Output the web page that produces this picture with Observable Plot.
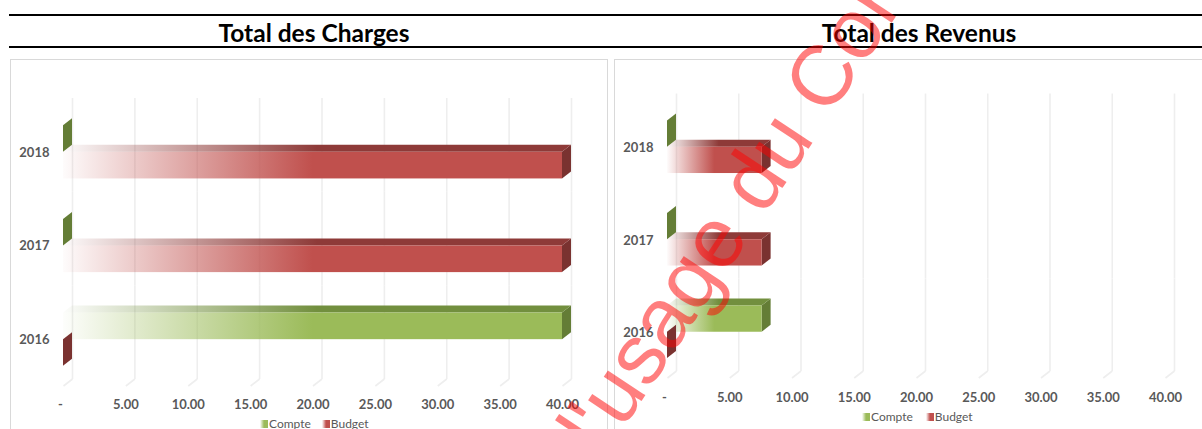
<!DOCTYPE html>
<html><head><meta charset="utf-8">
<script src="https://cdn.jsdelivr.net/npm/d3@7"></script>
<script src="https://cdn.jsdelivr.net/npm/@observablehq/plot@0.6"></script>
<style>
html,body{margin:0;padding:0;background:#fff}
#page{position:relative;width:1202px;height:429px;overflow:hidden;font-family:Lato,sans-serif}
.rule{position:absolute;left:9px;right:0;height:2px;background:#000}
.title{position:absolute;top:18.5px;font:bold 24.5px/28px Lato,sans-serif;color:#000;transform:translateX(-50%);white-space:nowrap}
.panel{position:absolute;top:59px;height:380px;border:1px solid #d9d9d9;box-sizing:border-box;background:#fff;overflow:hidden}
.panel svg{position:absolute;left:0;top:0;overflow:visible;background:transparent}
.legend{position:absolute;font:12px/14px Lato,sans-serif;color:#595959;display:flex;white-space:nowrap}
.legend i{display:inline-block;width:8px;height:8px;margin:3px 1px 0 0}
.legend span{margin-right:11px}
#wm{position:absolute;left:0;top:0;font:85px "Liberation Sans",Arial,sans-serif;color:rgba(255,0,0,.5);white-space:nowrap;transform-origin:0 0;pointer-events:none}
</style></head>
<body><div id="page">
<div class="rule" style="top:14px"></div><div class="rule" style="top:46px"></div>
<div class="title" style="left:314px">Total des Charges</div>
<div class="title" style="left:919px">Total des Revenus</div>
<div class="panel" id="p1" style="left:10px;width:598px"></div>
<div class="panel" id="p2" style="left:614px;width:600px"></div>
<div id="wm">à l'usage du Conseil</div>
</div>
<script>
const years = ["2018","2017","2016"];
const series = ["Compte","Budget"];
const ticks = [0,5,10,15,20,25,30,35,40];
const compteCharges = [0,0,40];
const budgetCharges = [40,40,0];
const compteRevenus = [0,0,7.6];
const budgetRevenus = [7.6,7.6,0];
const colors = {
  Compte:{front:"#9BBB59",top:"#728F3E",side:"#647D36"},
  Budget:{front:"#C0504D",top:"#8E3A38",side:"#7A3230"}
};
const depthX = 9, depthY = 7;

function face(kind){
  return function(index, scales, values, dims, ctx, next){
    const g = next(index, scales, values, dims, ctx);
    g.querySelectorAll("rect").forEach(r=>{
      const x=+r.getAttribute("x"), y=+r.getAttribute("y"), w=+r.getAttribute("width"), h=+r.getAttribute("height");
      const pts = kind==="top"
        ? [[x,y],[x+w,y],[x+w+depthX,y-depthY],[x+depthX,y-depthY]]
        : [[x+w,y],[x+w+depthX,y-depthY],[x+w+depthX,y+h-depthY],[x+w,y+h]];
      const p = document.createElementNS("http://www.w3.org/2000/svg","polygon");
      p.setAttribute("points",pts.map(d=>d.join(",")).join(" "));
      r.replaceWith(p);
    });
    return g;
  };
}
function floor(index, scales, values, dims, ctx, next){
  const g = next(index, scales, values, dims, ctx);
  g.querySelectorAll("line").forEach(l=>{
    const x=+l.getAttribute("x1"), y=+l.getAttribute("y2");
    l.setAttribute("x1",x+depthX); l.setAttribute("y1",y-depthY);
    l.setAttribute("x2",x); l.setAttribute("y2",y);
  });
  return g;
}

function chart(id, compte, budget, o){
  const rows = [];
  years.forEach((year,i)=>{
    rows.push({year,series:"Compte",value:compte[i]});
    rows.push({year,series:"Budget",value:budget[i]});
  });
  const gridRows = ticks.map(t=>({t}));
  const bars = series.flatMap(s=>{
    const d = rows.filter(r=>r.series===s), k=s.toLowerCase()+id;
    const base = {x:"value",y:"series",fy:"year"};
    return [
      Plot.barX(d,{...base,fill:colors[s].side,render:face("side")}),
      Plot.barX(d,{...base,fill:`url(#top-${k})`,render:face("top")}),
      Plot.barX(d,{...base,fill:`url(#front-${k})`})
    ];
  });
  const svg = Plot.plot({
    width:o.width,height:o.height,
    marginLeft:o.left,marginRight:o.right,marginTop:o.top,marginBottom:o.bottom,
    style:{background:"transparent",fontFamily:"Lato,sans-serif"},
    x:{domain:[0,40]},
    y:{domain:series,paddingInner:0,paddingOuter:.76,round:false,axis:null},
    fy:{domain:years,padding:0,round:false},
    facet:{marginTop:0,marginBottom:0},
    marks:[
      Plot.ruleX(gridRows,{x:"t",dx:depthX,dy:-depthY,stroke:"#eeeeee",strokeWidth:1.6}),
      Plot.ruleX(gridRows,{x:"t",fy:()=>years[2],stroke:"#eeeeee",strokeWidth:1.6,render:floor}),
      ...bars,
      Plot.axisX({ticks,anchor:"bottom",tickSize:0,tickPadding:o.xpad,label:null,fill:"#595959",fontSize:13,fontWeight:700,
        tickFormat:d=>d===0?"-\u00a0\u00a0":d.toFixed(2)}),
      Plot.axisFy({anchor:"left",tickSize:0,tickPadding:14,label:null,fill:"#595959",fontSize:13,fontWeight:700,dy:o.ydy})
    ]
  });
  const defs = d3.select(svg).insert("defs",":first-child");
  series.forEach(s=>{
    const k=s.toLowerCase()+id;
    [["front",colors[s].front],["top",colors[s].top]].forEach(([f,c])=>{
      const g=defs.append("linearGradient").attr("id",`${f}-${k}`);
      g.append("stop").attr("offset","0").attr("stop-color",c).attr("stop-opacity",.02);
      g.append("stop").attr("offset",".5").attr("stop-color",c).attr("stop-opacity",1);
    });
  });
  const panel=document.getElementById(id);
  panel.appendChild(svg);
  const lg=document.createElement("div");
  lg.className="legend";
  lg.style.left=o.lx+"px"; lg.style.top=o.ly+"px";
  series.forEach((s,i)=>{
    const sp=document.createElement("span");
    if(i===0) sp.style.marginRight=o.lgap+"px";
    const sw=document.createElement("i");
    sw.style.background=`linear-gradient(90deg,#fff,${colors[s].front} 50%)`;
    sp.appendChild(sw); sp.appendChild(document.createTextNode(s));
    lg.appendChild(sp);
  });
  panel.appendChild(lg);
}
chart("p1",compteCharges,budgetCharges,{width:596,height:369,left:52,right:45,top:45,bottom:43,xpad:13,ydy:0,lx:249,ly:357,lgap:11});
chart("p2",compteRevenus,budgetRevenus,{width:590,height:369,left:52,right:40,top:40.5,bottom:51,xpad:14,ydy:1,lx:247,ly:350,lgap:13});
const wm=document.getElementById("wm");
wm.style.transform="translate(499px,475px) rotate(-56.5deg)";
</script>
</body></html>
